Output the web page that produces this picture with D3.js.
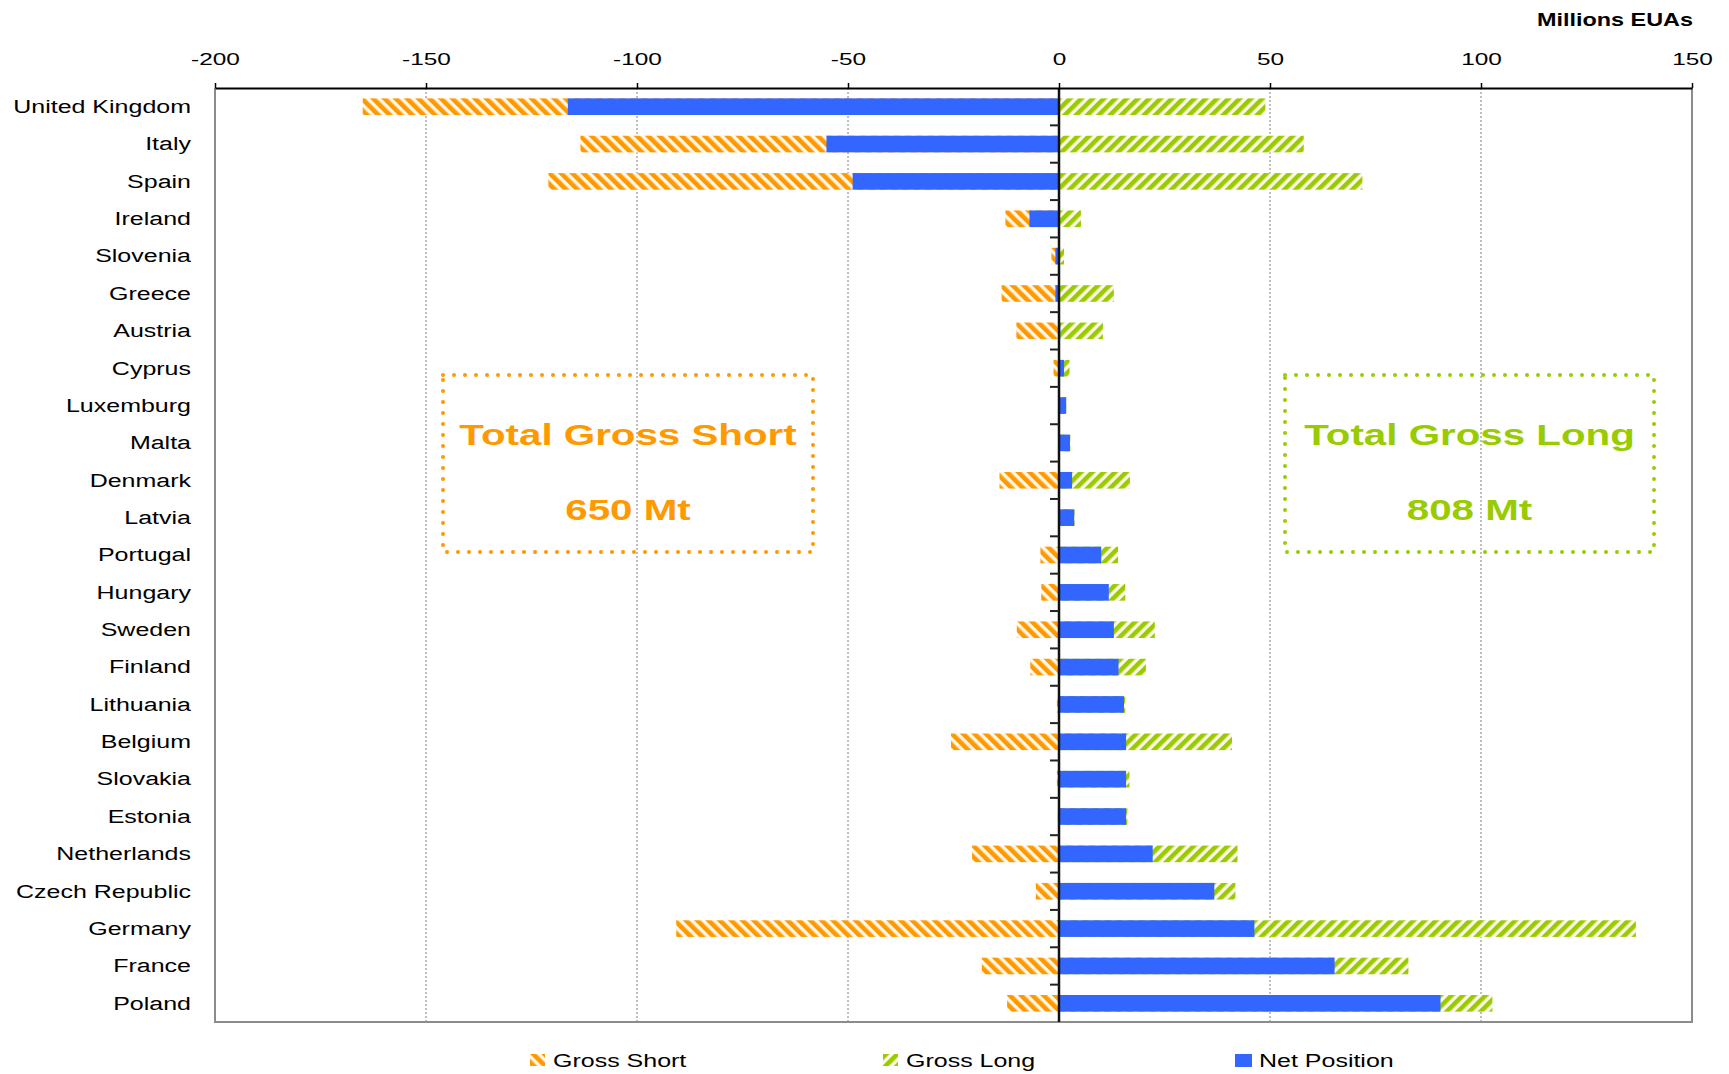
<!DOCTYPE html>
<html>
<head>
<meta charset="utf-8">
<script src="https://cdn.jsdelivr.net/npm/d3@7"></script>
<style>
  body { margin: 0; background: #fff; }
  text { font-family: "Liberation Sans", Arial, sans-serif; fill: #000; }
</style>
</head>
<body>
<svg id="chart" width="1729" height="1074"></svg>
<script>
// values, Millions EUAs
var countries = ["United Kingdom", "Italy", "Spain", "Ireland", "Slovenia", "Greece", "Austria",
    "Cyprus", "Luxemburg", "Malta", "Denmark", "Latvia", "Portugal", "Hungary", "Sweden",
    "Finland", "Lithuania", "Belgium", "Slovakia", "Estonia", "Netherlands", "Czech Republic",
    "Germany", "France", "Poland"];
var grossShort = [-165, -113.4, -121, -12.7, -1.8, -13.6, -10.1, -1.3, 0, 0, -14.1, 0, -4.4, -4.2,
    -10, -6.8, -0.5, -25.6, -0.5, -0.3, -20.6, -5.5, -90.7, -18.3, -12.3];
var grossLong = [48.9, 58, 71.9, 5.2, 1.2, 13, 10.4, 2.5, 1.7, 2.7, 16.8, 3.7, 14, 15.7,
    22.7, 20.6, 15.7, 41, 16.7, 16.2, 42.3, 41.8, 136.7, 82.8, 102.7];
var netPosition = [-116.4, -55.1, -48.9, -7, -0.85, -0.85, 0.3, 1.2, 1.7, 2.6, 3.1, 3.6, 10, 11.8,
    13, 14.1, 15.4, 15.9, 15.9, 15.9, 22.2, 36.8, 46.3, 65.3, 90.4];
var tickValues = [-200, -150, -100, -50, 0, 50, 100, 150];
var legendNames = ["Gross Short", "Gross Long", "Net Position"];
var totalShort = "650 Mt", totalLong = "808 Mt";

var orange = "#ff9900", green = "#99cc00", blue = "#3366ff";

var svg = d3.select("#chart");
var plotL = 215, plotR = 1692, plotT = 88, plotB = 1022;

var x = d3.scaleLinear().domain([-200, 150]).range([plotL, plotR]);
var y = d3.scaleBand().domain(countries).range([plotT, plotB])
    .paddingInner(0.555).paddingOuter(0.2775);

// hatch patterns
var defs = svg.append("defs");
function hatch(id, color, angle) {
    var p = defs.append("pattern")
        .attr("id", id)
        .attr("patternUnits", "userSpaceOnUse")
        .attr("width", 8).attr("height", 8)
        .attr("patternTransform", "rotate(" + angle + ")");
    p.append("rect").attr("width", 8).attr("height", 8).attr("fill", "#fff8ea");
    p.append("rect").attr("width", 4.6).attr("height", 8).attr("fill", color);
}
hatch("hShort", orange, -45);
hatch("hLong", green, 45);

// gridlines
svg.append("g").selectAll("line")
    .data(tickValues.filter(function(d) { return d != 0 && d != -200 && d != 150; }))
    .enter().append("line")
    .attr("x1", function(d) { return x(d); })
    .attr("x2", function(d) { return x(d); })
    .attr("y1", plotT).attr("y2", plotB)
    .attr("stroke", "#7f7f7f").attr("stroke-width", 1)
    .attr("stroke-dasharray", "2,2");

// frame (left, right, bottom)
svg.append("path")
    .attr("d", "M" + plotL + "," + plotT + "V" + plotB + "H" + plotR + "V" + plotT)
    .attr("fill", "none").attr("stroke", "#8c8c8c").attr("stroke-width", 2);

// bars
var rows = countries.map(function(c, i) {
    return { name: c, s: grossShort[i], l: grossLong[i], n: netPosition[i] };
});
var bars = svg.append("g");
bars.selectAll(".short").data(rows).enter().append("rect")
    .attr("x", function(d) { return x(d.s); })
    .attr("y", function(d) { return y(d.name); })
    .attr("width", function(d) { return x(0) - x(d.s); })
    .attr("height", y.bandwidth())
    .attr("fill", "url(#hShort)");
bars.selectAll(".long").data(rows).enter().append("rect")
    .attr("x", x(0))
    .attr("y", function(d) { return y(d.name); })
    .attr("width", function(d) { return x(d.l) - x(0); })
    .attr("height", y.bandwidth())
    .attr("fill", "url(#hLong)");
bars.selectAll(".net").data(rows).enter().append("rect")
    .attr("x", function(d) { return x(Math.min(0, d.n)); })
    .attr("y", function(d) { return y(d.name); })
    .attr("width", function(d) { return Math.abs(x(d.n) - x(0)); })
    .attr("height", y.bandwidth())
    .attr("fill", blue);

// zero line with category ticks
svg.append("line")
    .attr("x1", x(0)).attr("x2", x(0)).attr("y1", plotT).attr("y2", plotB)
    .attr("stroke", "#111").attr("stroke-width", 2.5);
svg.append("g").selectAll("line")
    .data(d3.range(1, countries.length))
    .enter().append("line")
    .attr("x1", x(0) - 9).attr("x2", x(0))
    .attr("y1", function(i) { return plotT + i * y.step(); })
    .attr("y2", function(i) { return plotT + i * y.step(); })
    .attr("stroke", "#222").attr("stroke-width", 2);

// top axis (plain hyphen for negatives, like the original)
var xAxis = svg.append("g")
    .attr("transform", "translate(0," + plotT + ")")
    .call(d3.axisTop(x).tickValues(tickValues).tickFormat(function(d) { return String(d); })
        .tickSizeInner(5).tickSizeOuter(0).tickPadding(18));
xAxis.select(".domain").attr("stroke", "#000").attr("stroke-width", 2);
xAxis.selectAll(".tick line").attr("stroke", "#000").attr("stroke-width", 1.5);
xAxis.selectAll(".tick text")
    .attr("font-size", 16.5)
    .attr("font-family", "Liberation Sans, Arial, sans-serif")
    .attr("transform", "scale(1.48,1)");

// category labels
svg.append("g").selectAll("text")
    .data(countries).enter().append("text")
    .attr("transform", function(d) {
        return "translate(191," + (y(d) + y.bandwidth() / 2 + 6.3) + ") scale(1.42,1)";
    })
    .attr("text-anchor", "end")
    .attr("font-size", 17.6)
    .text(function(d) { return d; });

// unit label
svg.append("text")
    .attr("transform", "translate(1693,26) scale(1.33,1)")
    .attr("text-anchor", "end")
    .attr("font-size", 17.6).attr("font-weight", "bold")
    .text("Millions EUAs");

// total boxes
function totalBox(x0, x1, color, title, value) {
    svg.append("rect")
        .attr("x", x0).attr("y", 375)
        .attr("width", x1 - x0).attr("height", 177)
        .attr("fill", "none").attr("stroke", color)
        .attr("stroke-width", 4).attr("stroke-linecap", "round")
        .attr("stroke-dasharray", "0,11");
    var cx = (x0 + x1) / 2;
    [[title, 445], [value, 520]].forEach(function(t) {
        svg.append("text")
            .attr("transform", "translate(" + cx + "," + t[1] + ") scale(1.39,1)")
            .attr("text-anchor", "middle")
            .attr("font-size", 29).attr("font-weight", "bold")
            .style("fill", color)
            .text(t[0]);
    });
}
totalBox(443, 813, orange, "Total Gross Short", totalShort);
totalBox(1285, 1654, green, "Total Gross Long", totalLong);

// legend
var legendX = [530, 883, 1235];
var legendFill = ["url(#hShort)", "url(#hLong)", blue];
var legend = svg.append("g").selectAll("g")
    .data(legendNames).enter().append("g")
    .attr("transform", function(d, i) { return "translate(" + legendX[i] + ",1054)"; });
legend.append("rect")
    .attr("width", function(d, i) { return i == 2 ? 17 : 15; })
    .attr("height", function(d, i) { return i == 2 ? 13 : 12; })
    .attr("fill", function(d, i) { return legendFill[i]; });
legend.append("text")
    .attr("transform", function(d, i) { return "translate(" + (i == 2 ? 24 : 23) + ",12.7) scale(1.42,1)"; })
    .attr("font-size", 17.6)
    .text(function(d) { return d; });
</script>
</body>
</html>
